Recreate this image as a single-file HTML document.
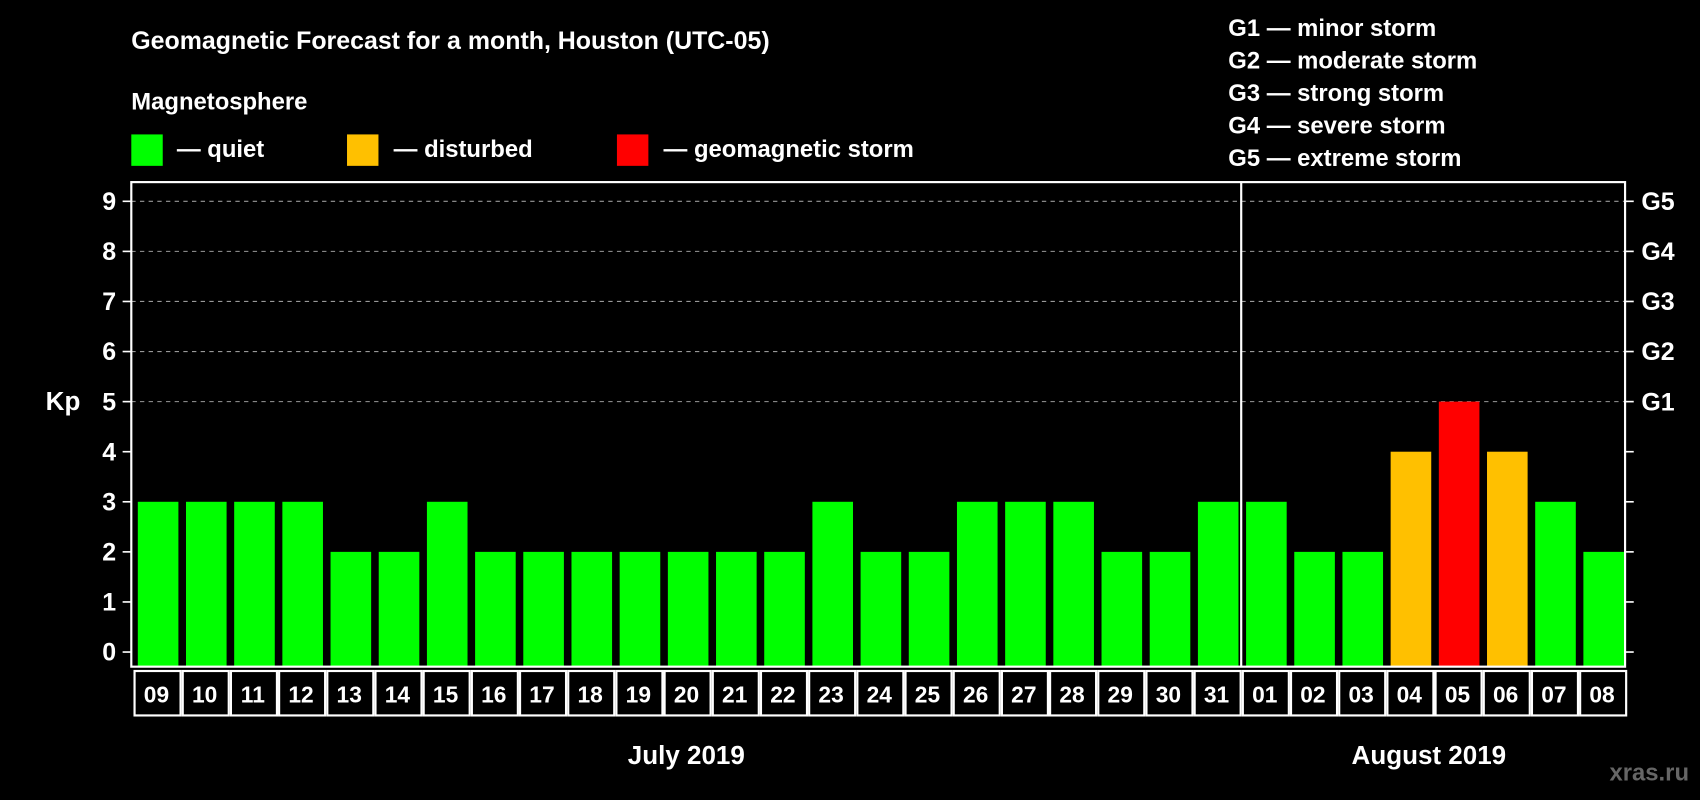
<!DOCTYPE html>
<html><head><meta charset="utf-8"><style>
html,body{margin:0;padding:0;background:#000;}
svg{display:block;font-family:"Liberation Sans",sans-serif;font-weight:bold;}
</style></head><body>
<svg id="chart" width="1700" height="800" viewBox="0 0 1568 738" xmlns="http://www.w3.org/2000/svg">
<rect x="0" y="0" width="1568" height="738" fill="#000"/>
<text x="121" y="45" fill="#fff" font-size="23">Geomagnetic Forecast for a month, Houston (UTC-05)</text>
<text x="121" y="101" fill="#fff" font-size="22">Magnetosphere</text>
<g><rect x="121" y="124" width="29" height="29" fill="#00ff00"/><text x="163" y="145" fill="#fff" font-size="22">— quiet</text></g>
<g><rect x="320" y="124" width="29" height="29" fill="#ffc000"/><text x="363" y="145" fill="#fff" font-size="22">— disturbed</text></g>
<g><rect x="569" y="124" width="29" height="29" fill="#ff0000"/><text x="612" y="145" fill="#fff" font-size="22">— geomagnetic storm</text></g>
<g fill="#fff" font-size="22">
<text x="1133" y="33">G1 — minor storm</text>
<text x="1133" y="63">G2 — moderate storm</text>
<text x="1133" y="93">G3 — strong storm</text>
<text x="1133" y="123">G4 — severe storm</text>
<text x="1133" y="153">G5 — extreme storm</text>
</g>
<text x="58" y="378" fill="#fff" font-size="24" text-anchor="middle">Kp</text>
<g id="plot"></g>
<text x="633" y="705" fill="#fff" font-size="24" text-anchor="middle">July 2019</text>
<text x="1318" y="705" fill="#fff" font-size="24" text-anchor="middle">August 2019</text>
<text x="1558" y="720" fill="#666" font-size="22" text-anchor="end">xras.ru</text>
</svg>
<script>
const days=["09","10","11","12","13","14","15","16","17","18","19","20","21","22","23","24","25","26","27","28","29","30","31","01","02","03","04","05","06","07","08"];
const kp=[3,3,3,3,2,2,3,2,2,2,2,2,2,2,3,2,2,3,3,3,2,2,3,3,2,2,4,5,4,3,2];
const yTicks=[0,1,2,3,4,5,6,7,8,9];
const gLabels=["G1","G2","G3","G4","G5"];
const NS="http://www.w3.org/2000/svg";
const L=121,R=1499,T=168,B=615;
const y0=601.5,unit=46.2;
const slot=(R-L)/days.length;
const y=v=>y0-v*unit;
const x=i=>L+i*slot;
const g=document.getElementById('plot');
function mk(t,a){const e=document.createElementNS(NS,t);for(const k in a)e.setAttribute(k,a[k]);g.appendChild(e);return e;}
function color(v){return v>=5?"#ff0000":(v>=4?"#ffc000":"#00ff00");}
// grid
yTicks.forEach(v=>{
 if(v>=5){const l=mk('line',{x1:L,x2:R,y1:y(v),y2:y(v),stroke:'#999','stroke-dasharray':'4,4','stroke-width':1});
 
 }
 const t1=mk('line',{x1:L-8,x2:L,y1:y(v),y2:y(v),stroke:'#fff','stroke-width':1.5});
 
 
 const t2=mk('line',{x1:R,x2:R+8,y1:y(v),y2:y(v),stroke:'#fff','stroke-width':1.5});
 
 
 const tx=mk('text',{x:L-14,y:y(v)+8,fill:'#fff','font-size':23,'text-anchor':'end'});
 tx.textContent=v;
 
 
});
gLabels.forEach((s,i)=>{
 const tx=mk('text',{x:R+15,y:y(5+i)+8,fill:'#fff','font-size':23});
 tx.textContent=s;
 
 
});
// bars
kp.forEach((v,i)=>{
 const r=mk('rect',{x:x(i)+6,y:y(v),width:slot-7,height:B-y(v),fill:color(v)});
 
 
 const b=mk('rect',{x:x(i)+3,y:B+4,width:slot-2,height:41,fill:'none',stroke:'#fff','stroke-width':2});
 
 
 const t=mk('text',{x:x(i)+slot/2+1,y:B+33,fill:'#fff','font-size':21,'text-anchor':'middle'});
 t.textContent=days[i];
 
 
});
// frame
const f=mk('rect',{x:L,y:T,width:R-L,height:B-T,fill:'none',stroke:'#fff','stroke-width':2});


const mi=days.indexOf("01");
const d=mk('line',{x1:x(mi)+1.5,x2:x(mi)+1.5,y1:T,y2:B,stroke:'#fff','stroke-width':2});


</script>
</body></html>
